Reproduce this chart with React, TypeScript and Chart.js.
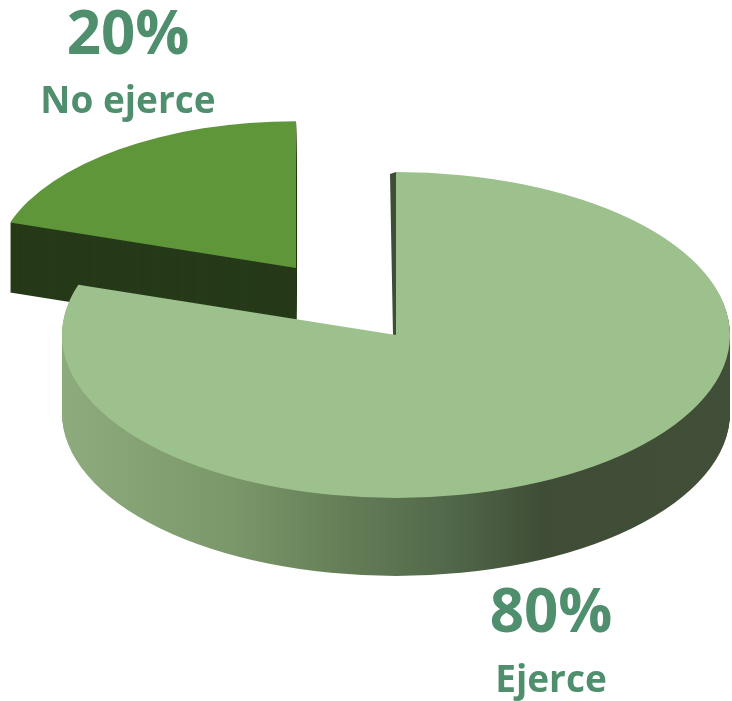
import React, { useEffect, useRef } from "react";
import { Chart, registerables } from "chart.js";

Chart.register(...registerables);

// ---- data ----
const categories = ["Ejerce", "No ejerce"];
const values = [80, 20];
const explode = [0, 170];

// ---- styles ----
const topColors = ["#9dc18c", "#5f963a"];
const sideColors = ["#6d8a5e", "#263a19"];
const depthScale = [1, 0.9]; // farther slice looks smaller (perspective)
const mainSideStops: [number, string][] = [
  [0, "#8dab7d"],
  [0.25, "#7b986b"],
  [0.42, "#657e57"],
  [0.58, "#52684a"],
  [0.72, "#3f4d36"],
  [1, "#414f38"],
];
const W = 732;
const H = 701;
const PIE_RADIUS = 334;
const TILT = 0.488;
const DEPTH = 78;
const FONT = "'Open Sans', 'DejaVu Sans', sans-serif";
const TEXT_COLOR = "#4f8f6e";
const labelPos = [
  { x: 551, pctY: 632, nameY: 692 },
  { x: 128, pctY: 54, nameY: 113 },
];

function slicePath(ctx: CanvasRenderingContext2D, arc: any, off: number, depth: number, scale: number) {
  const { x, y, startAngle, endAngle, outerRadius } = arc.getProps(
    ["x", "y", "startAngle", "endAngle", "outerRadius"],
    true
  );
  const mid = (startAngle + endAngle) / 2;
  const ox = x + Math.cos(mid) * off;
  const oy = y + Math.sin(mid) * off;
  ctx.save();
  ctx.translate(0, depth);
  ctx.translate(x, y);
  ctx.scale(1, TILT);
  ctx.translate(-x, -y);
  ctx.beginPath();
  ctx.moveTo(ox, oy);
  ctx.arc(ox, oy, outerRadius * scale, startAngle, endAngle);
  ctx.closePath();
  ctx.restore();
}

const pie3d = {
  id: "pie3d",
  beforeDatasetsDraw(chart: any) {
    const ctx: CanvasRenderingContext2D = chart.ctx;
    const arcs = chart.getDatasetMeta(0).data;
    const order = arcs
      .map((a: any, i: number) => {
        const mid = (a.startAngle + a.endAngle) / 2;
        return { i, key: a.y + Math.sin(mid) * explode[i] * TILT };
      })
      .sort((p: any, q: any) => p.key - q.key)
      .map((p: any) => p.i);

    for (const i of order) {
      const arc = arcs[i];
      const off = explode[i] || 0;
      const sc = depthScale[i] || 1;
      let side: any = sideColors[i];
      if (i === 0) {
        const g = ctx.createLinearGradient(arc.x - arc.outerRadius, 0, arc.x + arc.outerRadius, 0);
        mainSideStops.forEach(([s, c]) => g.addColorStop(s, c));
        side = g;
      }
      ctx.fillStyle = side;
      const depth = Math.round(DEPTH * sc);
      for (let d = depth; d >= 1; d--) {
        slicePath(ctx, arc, off, d, sc);
        ctx.fill();
      }
      if (i === 0) {
        // thin visible wall along the 12 o'clock cut edge
        const tipY = arc.y - arc.outerRadius * TILT;
        ctx.beginPath();
        ctx.moveTo(arc.x, tipY);
        ctx.lineTo(arc.x, arc.y);
        ctx.lineTo(arc.x - 3, arc.y);
        ctx.lineTo(arc.x - 6, tipY + 2);
        ctx.closePath();
        ctx.fillStyle = "#3e4d36";
        ctx.fill();
      }
      slicePath(ctx, arc, off, 0, sc);
      ctx.fillStyle = topColors[i];
      ctx.fill();
    }
    return false;
  },
  afterDraw(chart: any) {
    const ctx: CanvasRenderingContext2D = chart.ctx;
    const data: number[] = chart.data.datasets[0].data;
    const total = data.reduce((s, v) => s + v, 0);
    ctx.save();
    ctx.fillStyle = TEXT_COLOR;
    ctx.textAlign = "center";
    ctx.textBaseline = "alphabetic";
    data.forEach((v, i) => {
      const p = labelPos[i];
      ctx.font = `bold 60px ${FONT}`;
      ctx.fillText(`${Math.round((v / total) * 100)}%`, p.x, p.pctY);
      ctx.font = `bold 37px ${FONT}`;
      ctx.fillText(String(chart.data.labels[i]), p.x, p.nameY);
    });
    ctx.restore();
  },
};

export default function App() {
  const ref = useRef<HTMLCanvasElement>(null);
  useEffect(() => {
    document.body.style.margin = "0";
    const chart = new Chart(ref.current as HTMLCanvasElement, {
      type: "pie",
      data: {
        labels: categories,
        datasets: [
          {
            data: values,
            backgroundColor: topColors,
            borderWidth: 0,
            radius: PIE_RADIUS,
          } as any,
        ],
      },
      options: {
        animation: false,
        responsive: false,
        devicePixelRatio: 1,
        events: [],
        layout: { padding: { left: 60, right: 0, top: 0, bottom: 31 } },
        plugins: { legend: { display: false }, tooltip: { enabled: false } },
      } as any,
      plugins: [pie3d],
    });
    if ((document as any).fonts) {
      (document as any).fonts.ready.then(() => chart.draw());
    }
    return () => chart.destroy();
  }, []);
  return (
    <div style={{ position: "absolute", left: 0, top: 0, width: W, height: H, background: "#fff" }}>
      <canvas ref={ref} width={W} height={H} style={{ display: "block" }} />
    </div>
  );
}
